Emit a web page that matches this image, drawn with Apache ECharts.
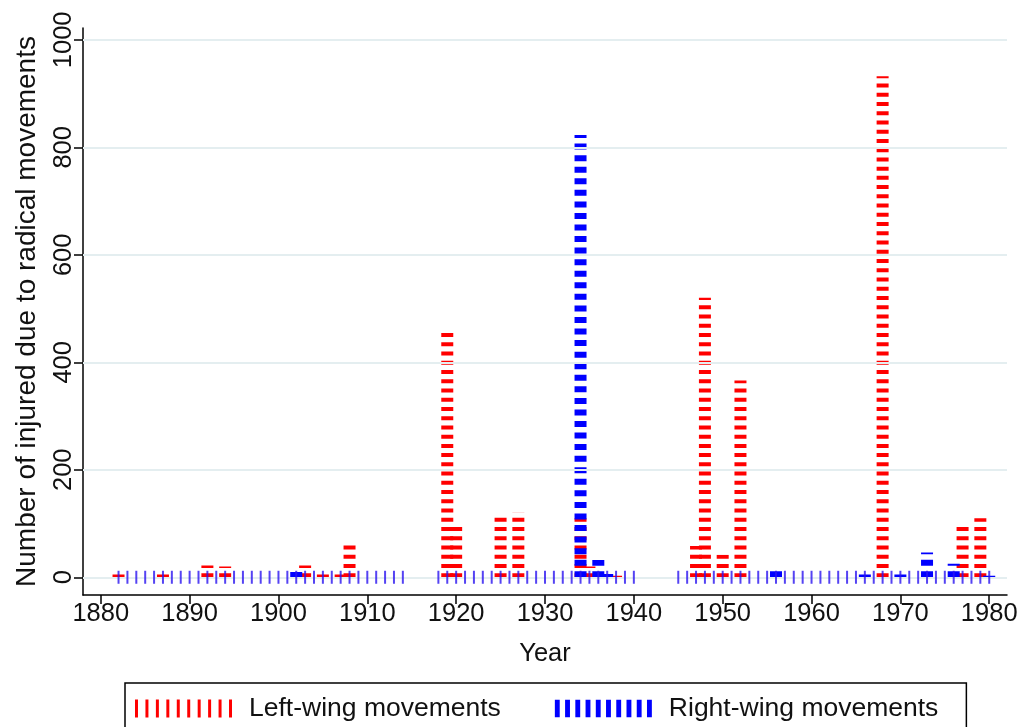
<!DOCTYPE html>
<html>
<head>
<meta charset="utf-8">
<script src="https://cdn.jsdelivr.net/npm/echarts@6/dist/echarts.min.js"></script>
<style>
  html, body { margin: 0; padding: 0; background: #fff; }
  #chart { width: 1022px; height: 727px; }
</style>
</head>
<body>
<div id="chart"></div>
<script>
// x axis runs 1878..1982, labelled every 10 years
const firstYear = 1878;
const lastYear = 1982;
const yTicks = [0, 200, 400, 600, 800, 1000];

// injured by left-wing movements (year, value)
const leftYears = [1882, 1887, 1892, 1894, 1903, 1905, 1907, 1908, 1919, 1920, 1925, 1927,
  1934, 1935, 1938, 1947, 1948, 1950, 1952, 1968, 1973, 1977, 1979];
const leftValues = [5, 5, 22, 20, 22, 5, 5, 67, 455, 96, 112, 120,
  110, 20, 3, 58, 520, 42, 366, 932, 10, 94, 110];

// injured by right-wing movements (year, value)
const rightYears = [1902, 1934, 1936, 1937, 1956, 1966, 1970, 1973, 1976, 1980];
const rightValues = [10, 823, 32, 6, 12, 5, 5, 46, 25, 3];

// years with an observation (zero bars show as small ticks)
const obsRanges = [[1882, 1914], [1918, 1940], [1945, 1980]];

const categories = [];
for (let y = firstYear; y <= lastYear; y += 1) categories.push(String(y));

const toSeries = (years, values) =>
  categories.map(c => {
    const i = years.indexOf(Number(c));
    return i >= 0 ? values[i] : '-';
  });

const obsData = categories.map(c => {
  const y = Number(c);
  return obsRanges.some(r => y >= r[0] && y <= r[1]) ? 0 : '-';
});

const font = '"Liberation Sans", Arial, Helvetica, sans-serif';

const stripes = (n, w, pitch) => {
  let p = 'path://';
  for (let i = 0; i < n; i += 1) p += 'M' + i * pitch + ',0h' + w + 'v18h-' + w + 'z ';
  return p;
};

const chart = echarts.init(document.getElementById('chart'));

chart.setOption({
  animation: false,
  grid: { left: 83, right: 15, top: 28, bottom: 132 },
  legend: {
    left: 125,
    top: 683,
    padding: [12, 28, 30, 10],
    borderColor: '#000',
    borderWidth: 1.5,
    itemGap: 54,
    itemWidth: 97,
    itemHeight: 18,
    textStyle: { fontFamily: font, fontSize: 26.5, color: '#111', padding: [0, 0, 0, 12] },
    data: [
      { name: 'Left-wing movements', icon: stripes(10, 3, 10.5) },
      { name: 'Right-wing movements', icon: stripes(10, 5, 10.5) }
    ]
  },
  xAxis: {
    type: 'category',
    data: categories,
    boundaryGap: false,
    name: 'Year',
    nameLocation: 'middle',
    nameGap: 46,
    nameTextStyle: { fontFamily: font, fontSize: 25.5, color: '#111' },
    axisLine: { onZero: false, lineStyle: { color: '#000', width: 1.5 } },
    axisTick: {
      length: 9,
      interval: (i, v) => Number(v) % 10 === 0,
      lineStyle: { color: '#000', width: 1.5 }
    },
    axisLabel: {
      interval: (i, v) => Number(v) % 10 === 0,
      fontFamily: font,
      fontSize: 25.5,
      color: '#111',
      margin: 6
    },
    splitLine: { show: false }
  },
  yAxis: {
    type: 'value',
    min: -33,
    max: 1022,
    name: 'Number of injured due to radical movements',
    nameLocation: 'middle',
    nameRotate: 90,
    nameGap: 42,
    nameTextStyle: { fontFamily: font, fontSize: 28, color: '#111' },
    axisLine: { show: true, onZero: false, lineStyle: { color: '#000', width: 1.5 } },
    axisTick: { show: true, length: 9, customValues: yTicks, lineStyle: { color: '#000', width: 1.5 } },
    axisLabel: {
      customValues: yTicks,
      formatter: v => String(v),
      rotate: 90,
      fontFamily: font,
      fontSize: 25.5,
      color: '#111',
      margin: 6
    },
    splitLine: { show: false }
  },
  series: [
    {
      name: 'grid',
      type: 'line',
      data: [],
      silent: true,
      z: 1,
      markLine: {
        silent: true,
        symbol: 'none',
        label: { show: false },
        lineStyle: { color: '#e4eef0', width: 2, type: 'solid' },
        data: yTicks.map(v => ({ yAxis: v }))
      }
    },
    {
      name: 'Left-wing movements',
      type: 'pictorialBar',
      data: toSeries(leftYears, leftValues),
      itemStyle: { color: '#ff0000' },
      symbol: 'rect',
      symbolSize: [12, 4],
      symbolRepeat: true,
      symbolMargin: 2.65,
      symbolClip: true,
      barGap: '-100%',
      barWidth: 12,
      z: 3
    },
    {
      name: 'Right-wing movements',
      type: 'pictorialBar',
      data: toSeries(rightYears, rightValues),
      itemStyle: { color: '#0000ff' },
      symbol: 'rect',
      symbolSize: [12, 6],
      symbolRepeat: true,
      symbolMargin: 2.85,
      symbolClip: true,
      barGap: '-100%',
      barWidth: 12,
      z: 4
    },
    {
      name: 'obs',
      type: 'scatter',
      data: obsData,
      symbol: 'rect',
      symbolSize: [2, 13],
      itemStyle: { color: '#2a14f0' },
      silent: true,
      z: 5
    }
  ]
});
</script>
</body>
</html>
